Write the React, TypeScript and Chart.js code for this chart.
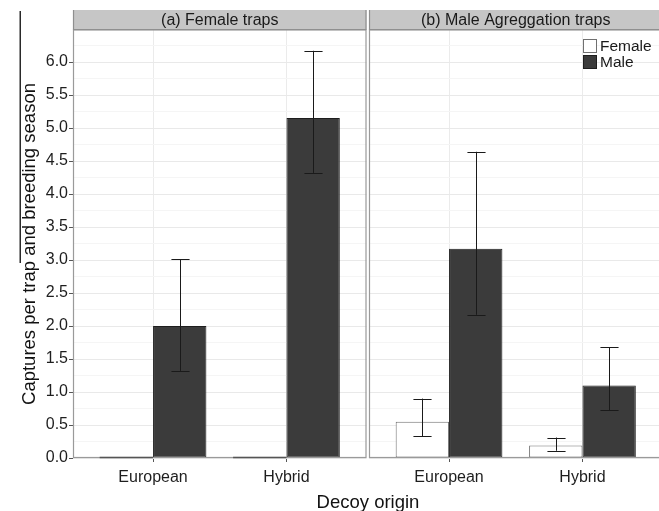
import React, { useEffect, useRef } from 'react';
import { Chart, registerables } from 'chart.js';

Chart.register(...registerables);

const CATEGORIES = ['European', 'Hybrid'];
const SERIES = ['Female', 'Male'];
const PANEL_TITLES = ['(a) Female traps', '(b) Male Agreggation traps'];
const Y_TITLE = 'Captures per trap and breeding season';
const X_TITLE = 'Decoy origin';

// Panel (a)
const A_FEMALE = [0, 0];
const A_FEMALE_LO: (number | null)[] = [null, null];
const A_FEMALE_HI: (number | null)[] = [null, null];
const A_MALE = [2.0, 5.15];
const A_MALE_LO = [1.32, 4.32];
const A_MALE_HI = [3.01, 6.17];

// Panel (b)
const B_FEMALE = [0.55, 0.19];
const B_FEMALE_LO = [0.33, 0.11];
const B_FEMALE_HI = [0.9, 0.31];
const B_MALE = [3.17, 1.1];
const B_MALE_LO = [2.17, 0.72];
const B_MALE_HI = [4.64, 1.68];

const Y_MAJOR = [0, 0.5, 1, 1.5, 2, 2.5, 3, 3.5, 4, 4.5, 5, 5.5, 6];
const Y_LABELS = ['0.0', '0.5', '1.0', '1.5', '2.0', '2.5', '3.0', '3.5', '4.0', '4.5', '5.0', '5.5', '6.0'];
const Y_MINOR = [0.25, 0.75, 1.25, 1.75, 2.25, 2.75, 3.25, 3.75, 4.25, 4.75, 5.25, 5.75, 6.25];
const Y_MAX = 6.485;

const FONT = "'Liberation Sans', Arial, Helvetica, sans-serif";
const FEMALE_FILL = '#ffffff';
const FEMALE_BORDER = '#707070';
const MALE_FILL = '#3b3b3b';
const MALE_BORDER = '#1e1e1e';

function makeDatasets(female: number[], fLo: (number | null)[], fHi: (number | null)[], male: number[], mLo: (number | null)[], mHi: (number | null)[]) {
  return [
    {
      label: SERIES[0],
      data: CATEGORIES.map((c, i) => ({ x: i + 1, y: female[i] })),
      backgroundColor: FEMALE_FILL,
      borderColor: FEMALE_BORDER,
      borderWidth: 1,
      borderSkipped: false,
      errLo: fLo,
      errHi: fHi,
    },
    {
      label: SERIES[1],
      data: CATEGORIES.map((c, i) => ({ x: i + 1, y: male[i] })),
      backgroundColor: MALE_FILL,
      borderColor: MALE_BORDER,
      borderWidth: 1,
      borderSkipped: false,
      errLo: mLo,
      errHi: mHi,
    },
  ];
}

function facetPlugin(title: string, showLegend: boolean, drawStray: boolean) {
  return {
    id: 'facet',
    afterDatasetsDraw(chart: any) {
      const ctx = chart.ctx;
      const yS = chart.scales.y;
      ctx.save();
      chart.data.datasets.forEach((ds: any, di: number) => {
        const meta = chart.getDatasetMeta(di);
        meta.data.forEach((bar: any, i: number) => {
          const { x, width } = bar.getProps(['x', 'width'], true);
          const lo = ds.errLo[i];
          const hi = ds.errHi[i];
          if (lo != null && hi != null) {
            const yl = yS.getPixelForValue(lo);
            const yh = yS.getPixelForValue(hi);
            const cap = width * 0.17;
            const xc = Math.round(x) + 0.5;
            ctx.strokeStyle = '#1a1a1a';
            ctx.lineWidth = 1;
            ctx.beginPath();
            ctx.moveTo(xc, yl);
            ctx.lineTo(xc, yh);
            ctx.moveTo(xc - cap, Math.round(yh) + 0.5);
            ctx.lineTo(xc + cap, Math.round(yh) + 0.5);
            ctx.moveTo(xc - cap, Math.round(yl) + 0.5);
            ctx.lineTo(xc + cap, Math.round(yl) + 0.5);
            ctx.stroke();
          }
        });
      });
      ctx.restore();
    },
    afterDraw(chart: any) {
      const ctx = chart.ctx;
      const { left, right, top, bottom } = chart.chartArea;
      const yS = chart.scales.y;
      ctx.save();
      // panel border
      ctx.strokeStyle = '#9a9a9a';
      ctx.lineWidth = 1.2;
      ctx.strokeRect(left + 0.5, top, right - left - 1, bottom - top - 0.5);
      // zero-height bars drawn as a flat outline on the baseline
      chart.data.datasets.forEach((ds: any, di: number) => {
        const meta = chart.getDatasetMeta(di);
        meta.data.forEach((bar: any, i: number) => {
          const { x, width } = bar.getProps(['x', 'width'], true);
          if (ds.data[i].y === 0) {
            const y0 = Math.round(yS.getPixelForValue(0)) - 0.5;
            ctx.strokeStyle = '#555555';
            ctx.lineWidth = 1.3;
            ctx.beginPath();
            ctx.moveTo(x - width / 2, y0);
            ctx.lineTo(x + width / 2, y0);
            ctx.stroke();
          }
        });
      });
      // strip
      const stripTop = 10;
      ctx.fillStyle = '#c6c6c6';
      ctx.fillRect(left, stripTop, right - left, top - stripTop);
      ctx.strokeStyle = '#8f8f8f';
      ctx.lineWidth = 1.2;
      ctx.beginPath();
      ctx.moveTo(left, top - 0.5);
      ctx.lineTo(right, top - 0.5);
      ctx.moveTo(left + 0.5, stripTop);
      ctx.lineTo(left + 0.5, top);
      ctx.moveTo(right - 0.5, stripTop);
      ctx.lineTo(right - 0.5, top);
      ctx.stroke();
      ctx.fillStyle = '#1a1a1a';
      ctx.font = `16px ${FONT}`;
      ctx.textAlign = 'center';
      ctx.textBaseline = 'middle';
      ctx.fillText(title, (left + right) / 2, (stripTop + top) / 2 + 1);

      if (showLegend) {
        const bx = Math.round(right - 79.5);
        const sz = 14;
        const ys = [39, 55];
        chart.data.datasets.forEach((ds: any, di: number) => {
          const by = ys[di];
          ctx.fillStyle = ds.backgroundColor;
          ctx.fillRect(bx, by, sz, sz);
          ctx.strokeStyle = ds.borderColor;
          ctx.lineWidth = 1;
          ctx.strokeRect(bx + 0.5, by + 0.5, sz - 1, sz - 1);
          ctx.fillStyle = '#1a1a1a';
          ctx.font = `15.5px ${FONT}`;
          ctx.textAlign = 'left';
          ctx.textBaseline = 'middle';
          ctx.fillText(ds.label, bx + sz + 3, by + sz / 2 + 1);
        });
      }
      if (drawStray) {
        ctx.fillStyle = '#2a2a2a';
        ctx.fillRect(19.5, 11, 1.5, 252);
      }
      ctx.restore();
    },
  };
}

function makeConfig(datasets: any[], title: string, showY: boolean, showLegend: boolean): any {
  const allY = [...Y_MAJOR, ...Y_MINOR].sort((a, b) => a - b);
  return {
    type: 'bar',
    data: { datasets },
    plugins: [facetPlugin(title, showLegend, showY)],
    options: {
      responsive: false,
      animation: false,
      events: [],
      layout: { padding: { top: 30, left: showY ? 0 : 1, right: 1.5, bottom: 0 } },
      datasets: { bar: { categoryPercentage: 0.8, barPercentage: 1 } },
      plugins: { legend: { display: false }, tooltip: { enabled: false } },
      scales: {
        x: {
          type: 'linear',
          min: 0.4,
          max: 2.6,
          offset: false,
          afterBuildTicks: (s: any) => {
            s.ticks = CATEGORIES.map((c, i) => ({ value: i + 1 }));
          },
          afterFit: (s: any) => {
            s.height = 53;
          },
          ticks: {
            autoSkip: false,
            maxRotation: 0,
            padding: 6,
            color: '#1e1e1e',
            font: { size: 16, family: FONT },
            callback: (v: number) => CATEGORIES[Math.round(v) - 1] ?? '',
          },
          grid: { color: '#ebebeb', tickColor: '#555555', tickLength: 4, offset: false },
          border: { display: false },
        },
        y: {
          min: 0,
          max: Y_MAX,
          afterBuildTicks: (s: any) => {
            s.ticks = allY.map((v) => ({ value: v }));
          },
          afterFit: (s: any) => {
            s.width = showY ? 73 : 0;
          },
          ticks: {
            display: showY,
            autoSkip: false,
            padding: 1,
            color: '#1e1e1e',
            font: { size: 16, family: FONT },
            callback: (v: number) => {
              const i = Y_MAJOR.indexOf(v);
              return i >= 0 ? Y_LABELS[i] : '';
            },
          },
          grid: {
            color: (c: any) => (Y_MAJOR.includes(c.tick?.value) ? '#e9e9e9' : '#f5f5f5'),
            tickColor: (c: any) => (Y_MAJOR.includes(c.tick?.value) ? '#555555' : 'rgba(0,0,0,0)'),
            tickLength: 4,
            drawTicks: showY,
          },
          border: { display: false },
          title: {
            display: showY,
            text: Y_TITLE,
            color: '#111111',
            font: { size: 18.5, family: FONT },
            padding: { top: 19, bottom: 0 },
          },
        },
      },
    },
  };
}

export default function App() {
  const leftRef = useRef<HTMLCanvasElement>(null);
  const rightRef = useRef<HTMLCanvasElement>(null);

  useEffect(() => {
    const left = new Chart(
      leftRef.current as HTMLCanvasElement,
      makeConfig(makeDatasets(A_FEMALE, A_FEMALE_LO, A_FEMALE_HI, A_MALE, A_MALE_LO, A_MALE_HI), PANEL_TITLES[0], true, false)
    );
    const right = new Chart(
      rightRef.current as HTMLCanvasElement,
      makeConfig(makeDatasets(B_FEMALE, B_FEMALE_LO, B_FEMALE_HI, B_MALE, B_MALE_LO, B_MALE_HI), PANEL_TITLES[1], false, true)
    );
    return () => {
      left.destroy();
      right.destroy();
    };
  }, []);

  return (
    <div
      style={{
        position: 'fixed',
        left: 0,
        top: 0,
        width: 659,
        height: 511,
        overflow: 'hidden',
        background: '#ffffff',
      }}
    >
      <canvas
        ref={leftRef}
        width={368}
        height={511}
        style={{ position: 'absolute', left: 0, top: 0, width: 368, height: 511, display: 'block' }}
      />
      <canvas
        ref={rightRef}
        width={296}
        height={511}
        style={{ position: 'absolute', left: 368, top: 0, width: 296, height: 511, display: 'block' }}
      />
      <div
        style={{
          position: 'absolute',
          left: 268,
          top: 492,
          width: 200,
          textAlign: 'center',
          fontFamily: FONT,
          fontSize: 18.5,
          lineHeight: '20px',
          color: '#111111',
        }}
      >
        {X_TITLE}
      </div>
    </div>
  );
}
